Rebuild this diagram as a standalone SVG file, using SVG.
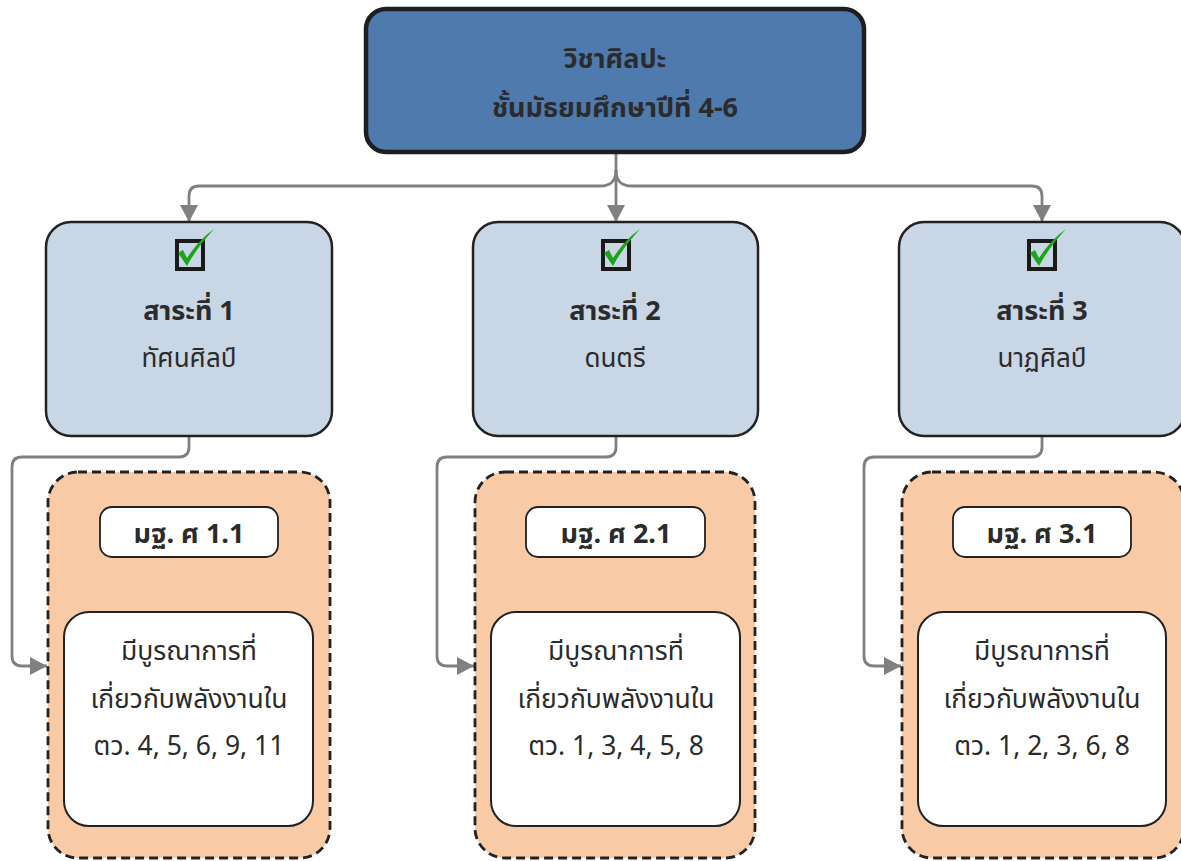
<svg xmlns="http://www.w3.org/2000/svg" width="1181" height="861" viewBox="0 0 1181 861">
<style>
text{font-family:"Noto Sans Thai","Noto Sans","DejaVu Sans",sans-serif;fill:#2b2b2b;text-anchor:middle}
.b{font-weight:bold}
.th{font-size:27px}
.t1{font-size:27px}
.t1r{font-size:26px}
.t2{font-size:26.5px}
.top{fill:#4e7aae;stroke:#1e1e1e;stroke-width:4.5}
.sub{fill:#c9d6e5;stroke:#222;stroke-width:2.5}
.grp{fill:#f8cba6;stroke:#222;stroke-width:2.8;stroke-dasharray:9 5}
.lab{fill:#fff;stroke:#222;stroke-width:1.8}
.inn{fill:#fff;stroke:#222;stroke-width:2}
.cb{fill:none;stroke:#1a1a1a;stroke-width:4}
.ck{fill:#1aa51a}
.c{fill:none;stroke:#808080;stroke-width:2.8}
.c2{fill:none;stroke:#686868;stroke-width:2.8}
</style>
<defs>
<marker id="ah" markerUnits="userSpaceOnUse" markerWidth="18" markerHeight="18" viewBox="0 0 18 18" refX="17" refY="9" orient="auto">
<path d="M0,0 L17,9 L0,18 Z" fill="#808080"/>
</marker>
<marker id="ah2" markerUnits="userSpaceOnUse" markerWidth="18" markerHeight="18" viewBox="0 0 18 18" refX="17" refY="9" orient="auto">
<path d="M0,0 L17,9 L0,18 Z" fill="#686868"/>
</marker>
</defs>

<g id="connectors">
<path class="c" d="M616,153 V222" marker-end="url(#ah)"/>
<path class="c" d="M616,170 C616,182 610,186 600,186 H199 Q189,186 189,196 V222" marker-end="url(#ah)"/>
<path class="c" d="M616,170 C616,182 622,186 632,186 H1032 Q1042,186 1042,196 V222" marker-end="url(#ah)"/>
<path class="c" d="M189,436 V447 Q189,457 179,457 H22 Q12,457 12,467 V656 Q12,666 22,666 H47" marker-end="url(#ah)"/>
<path class="c" d="M616,436 V447 Q616,457 606,457 H447 Q437,457 437,467 V656 Q437,666 447,666 H474" marker-end="url(#ah)"/>
<path class="c" d="M1042,436 V447 Q1042,457 1032,457 H874 Q864,457 864,467 V656 Q864,666 874,666 H901" marker-end="url(#ah)"/>
<path class="c2" d="M189,557 V612" marker-end="url(#ah2)"/>
<path class="c2" d="M616,557 V612" marker-end="url(#ah2)"/>
<path class="c2" d="M1042,557 V612" marker-end="url(#ah2)"/>
</g>

<g id="root">
<rect class="top" x="366" y="9" width="498" height="143" rx="20"/>
<text class="b th" x="615" y="68">วิชาศิลปะ</text>
<text class="b th" x="615" y="117">ชั้นมัธยมศึกษาปีที่ 4-6</text>
</g>

<g id="sara1">
<rect class="sub" x="46" y="222" width="286" height="214" rx="25"/>
<rect class="cb" x="177" y="241" width="26" height="28"/>
<path class="ck" d="M178,253 L183,250 L187,258 C195,246 203,237 214,229 C205,239 195,251 187,266 Z"/>
<text class="b t1" x="189" y="320">สาระที่ 1</text>
<text class="t1r" x="189" y="367">ทัศนศิลป์</text>
</g>
<g id="sara2">
<rect class="sub" x="473" y="222" width="285" height="214" rx="25"/>
<rect class="cb" x="603" y="241" width="26" height="28"/>
<path class="ck" d="M604,253 L609,250 L613,258 C621,246 629,237 640,229 C631,239 621,251 613,266 Z"/>
<text class="b t1" x="615" y="320">สาระที่ 2</text>
<text class="t1r" x="615" y="367">ดนตรี</text>
</g>
<g id="sara3">
<rect class="sub" x="899" y="222" width="286" height="214" rx="25"/>
<rect class="cb" x="1029" y="241" width="26" height="28"/>
<path class="ck" d="M1030,253 L1035,250 L1039,258 C1047,246 1055,237 1066,229 C1057,239 1047,251 1039,266 Z"/>
<text class="b t1" x="1042" y="320">สาระที่ 3</text>
<text class="t1r" x="1042" y="367">นาฏศิลป์</text>
</g>

<g id="group1">
<rect class="grp" x="48" y="472" width="282" height="386" rx="30"/>
</g>
<g id="std1">
<rect class="lab" x="100" y="507" width="178" height="50" rx="12"/>
<text class="b t1" x="189" y="543">มฐ. ศ 1.1</text>
</g>
<g id="ind1">
<rect class="inn" x="64" y="612" width="249" height="214" rx="25"/>
<text class="t2" x="189" y="660">มีบูรณาการที่</text>
<text class="t2" x="189" y="708">เกี่ยวกับพลังงานใน</text>
<text class="t2" x="189" y="755">ตว. 4, 5, 6, 9, 11</text>
</g>

<g id="group2">
<rect class="grp" x="475" y="472" width="280" height="386" rx="30"/>
</g>
<g id="std2">
<rect class="lab" x="526" y="507" width="179" height="50" rx="12"/>
<text class="b t1" x="616" y="543">มฐ. ศ 2.1</text>
</g>
<g id="ind2">
<rect class="inn" x="491" y="612" width="249" height="214" rx="25"/>
<text class="t2" x="616" y="660">มีบูรณาการที่</text>
<text class="t2" x="616" y="708">เกี่ยวกับพลังงานใน</text>
<text class="t2" x="616" y="755">ตว. 1, 3, 4, 5, 8</text>
</g>

<g id="group3">
<rect class="grp" x="902" y="472" width="282" height="386" rx="30"/>
</g>
<g id="std3">
<rect class="lab" x="953" y="507" width="178" height="50" rx="12"/>
<text class="b t1" x="1042" y="543">มฐ. ศ 3.1</text>
</g>
<g id="ind3">
<rect class="inn" x="918" y="612" width="248" height="214" rx="25"/>
<text class="t2" x="1042" y="660">มีบูรณาการที่</text>
<text class="t2" x="1042" y="708">เกี่ยวกับพลังงานใน</text>
<text class="t2" x="1042" y="755">ตว. 1, 2, 3, 6, 8</text>
</g>
</svg>
